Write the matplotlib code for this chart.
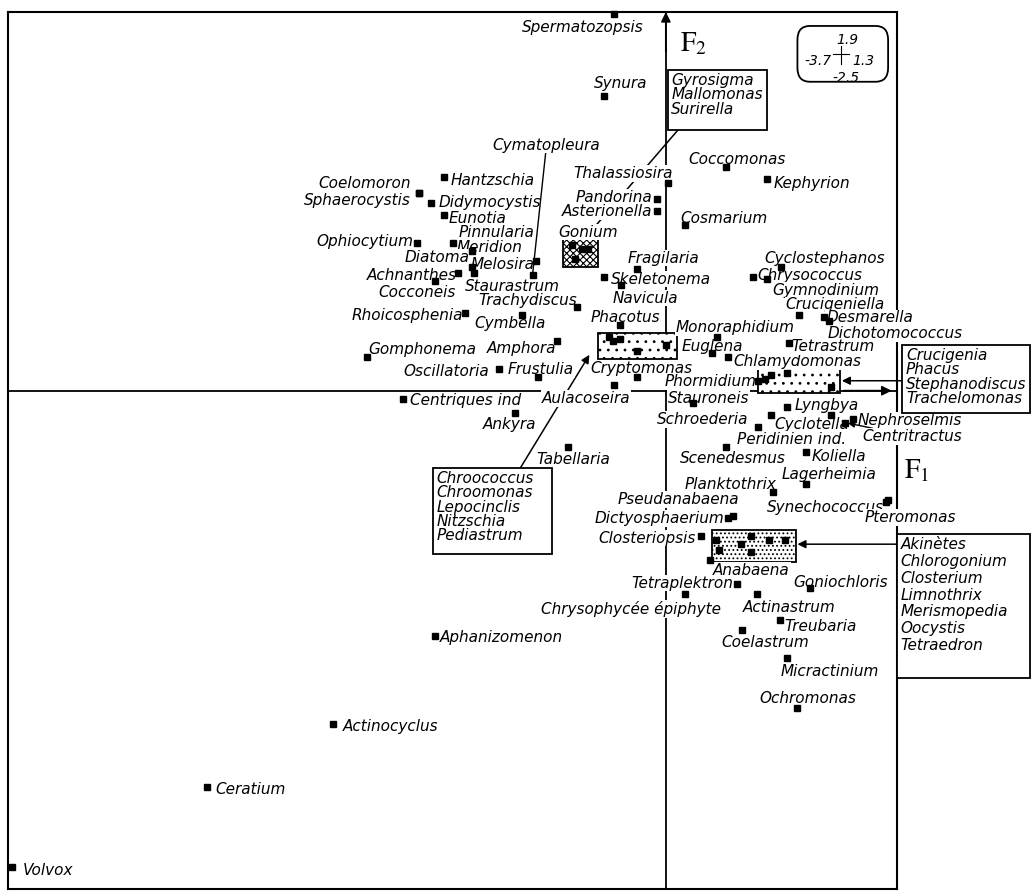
import matplotlib.pyplot as plt
from matplotlib.patches import Rectangle, FancyBboxPatch

plt.rcParams['font.family'] = 'DejaVu Sans'
plt.rcParams['mathtext.fontset'] = 'stix'
plt.rcParams['hatch.linewidth'] = 0.8

# axis ranges (shown in the small rounded legend)
x_min, x_max = -3.7, 1.3
y_min, y_max = -2.5, 1.9

# labelled taxa: F1 / F2 scores
species = [
    "Spermatozopsis", "Synura", "Thalassiosira", "Coccomonas", "Kephyrion",
    "Pandorina", "Asterionella", "Cosmarium", "Gonium", "Fragilaria",
    "Skeletonema", "Navicula", "Phacotus", "Monoraphidium", "Euglena",
    "Chlamydomonas", "Cryptomonas", "Aulacoseira", "Phormidium", "Stauroneis",
    "Cyclostephanos", "Chrysococcus", "Gymnodinium", "Crucigeniella", "Desmarella",
    "Dichotomococcus", "Tetrastrum", "Lyngbya", "Schroederia", "Cyclotella",
    "Peridinien ind.", "Nephroselmis", "Centritractus", "Koliella", "Lagerheimia",
    "Planktothrix", "Synechococcus", "Pteromonas", "Scenedesmus", "Pseudanabaena",
    "Dictyosphaerium", "Closteriopsis", "Anabaena", "Goniochloris", "Tetraplektron",
    "Actinastrum", "Chrysophycée épiphyte", "Treubaria", "Coelastrum", "Micractinium",
    "Ochromonas", "Aphanizomenon", "Actinocyclus", "Ceratium", "Volvox",
    "Centriques ind", "Ankyra", "Tabellaria", "Coelomoron", "Sphaerocystis",
    "Hantzschia", "Didymocystis", "Eunotia", "Ophiocytium", "Pinnularia",
    "Meridion", "Diatoma", "Melosira", "Cymatopleura", "Staurastrum",
    "Achnanthes", "Cocconeis", "Trachydiscus", "Rhoicosphenia", "Cymbella",
    "Amphora", "Gomphonema", "Oscillatoria", "Frustulia",
]
f1 = [
    -0.29, -0.35, 0.01, 0.34, 0.57,
    -0.05, -0.05, 0.11, -0.47, -0.16,
    -0.35, -0.25, -0.26, 0.29, 0.26,
    0.35, -0.16, -0.29, 0.52, 0.15,
    0.65, 0.49, 0.57, 0.75, 0.89,
    0.92, 0.69, 0.68, 0.52, 0.59,
    0.93, 1.05, 1.01, 0.79, 0.79,
    0.60, 1.24, 1.25, 0.34, 0.38,
    0.35, 0.20, 0.25, 0.81, 0.40,
    0.51, 0.11, 0.64, 0.43, 0.68,
    0.74, -1.30, -1.87, -2.58, -3.68,
    -1.48, -0.85, -0.55, -1.39, -1.39,
    -1.25, -1.32, -1.25, -1.40, -1.09,
    -1.20, -1.09, -0.73, -0.75, -1.08,
    -1.17, -1.30, -0.50, -1.13, -0.81,
    -0.61, -1.68, -0.94, -0.72,
]
f2 = [
    1.89, 1.48, 1.04, 1.12, 1.06,
    0.96, 0.90, 0.83, 0.71, 0.61,
    0.57, 0.53, 0.33, 0.27, 0.19,
    0.17, 0.07, 0.03, 0.05, -0.06,
    0.62, 0.57, 0.56, 0.38, 0.37,
    0.35, 0.24, -0.08, -0.18, -0.12,
    -0.12, -0.14, -0.16, -0.31, -0.47,
    -0.51, -0.56, -0.55, -0.28, -0.63,
    -0.64, -0.73, -0.85, -0.99, -0.97,
    -1.02, -1.02, -1.15, -1.20, -1.34,
    -1.59, -1.23, -1.67, -1.99, -2.39,
    -0.04, -0.11, -0.28, 0.99, 0.99,
    1.07, 0.94, 0.88, 0.74, 0.70,
    0.74, 0.62, 0.65, 0.58, 0.59,
    0.59, 0.55, 0.42, 0.39, 0.38,
    0.25, 0.17, 0.11, 0.07,
]

# grouped taxa (plotted inside hatched boxes, names listed in side boxes)
grp_a_names = ["Gyrosigma", "Mallomonas", "Surirella"]
grp_a_f1 = [-0.53, -0.44, -0.51]
grp_a_f2 = [0.73, 0.71, 0.66]

grp_b_names = ["Chroococcus", "Chroomonas", "Lepocinclis", "Nitzschia", "Pediastrum"]
grp_b_f1 = [-0.32, -0.26, -0.16, 0.00, -0.30]
grp_b_f2 = [0.27, 0.26, 0.20, 0.23, 0.25]

grp_c_names = ["Crucigenia", "Phacus", "Stephanodiscus", "Trachelomonas"]
grp_c_f1 = [0.56, 0.59, 0.68, 0.93]
grp_c_f2 = [0.06, 0.08, 0.09, 0.02]

grp_d_names = ["Akinètes", "Chlorogonium", "Closterium", "Limnothrix",
               "Merismopedia", "Oocystis", "Tetraedron"]
grp_d_f1 = [0.28, 0.30, 0.48, 0.48, 0.58, 0.67, 0.42]
grp_d_f2 = [-0.75, -0.80, -0.73, -0.81, -0.75, -0.75, -0.77]

# label placement: offset in pixels from the point, alignment
label_pos = {
    "Spermatozopsis": (-32, -14, "center"), "Synura": (17, 12, "center"),
    "Thalassiosira": (-45, 10, "center"), "Coccomonas": (11, 8, "center"),
    "Kephyrion": (6, -4, "left"), "Pandorina": (-5, 2, "right"),
    "Asterionella": (-5, 0, "right"), "Cosmarium": (-5, 7, "left"),
    "Gonium": (6, 17, "center"), "Fragilaria": (26, 11, "center"),
    "Skeletonema": (7, -2, "left"), "Navicula": (24, -13, "center"),
    "Phacotus": (6, 7, "center"), "Monoraphidium": (18, 9, "center"),
    "Euglena": (0, 6, "center"), "Chlamydomonas": (5, -5, "left"),
    "Cryptomonas": (4, 8, "center"), "Aulacoseira": (-28, -14, "center"),
    "Phormidium": (-2, -1, "right"), "Stauroneis": (16, 4, "center"),
    "Cyclostephanos": (43, 9, "center"), "Chrysococcus": (4, 2, "left"),
    "Gymnodinium": (5, -11, "left"), "Crucigeniella": (36, 10, "center"),
    "Desmarella": (2, -1, "left"), "Dichotomococcus": (-2, -13, "left"),
    "Tetrastrum": (3, -4, "left"), "Lyngbya": (8, 1, "left"),
    "Schroederia": (-10, 7, "right"), "Cyclotella": (4, -10, "left"),
    "Peridinien ind.": (15, -25, "right"), "Nephroselmis": (5, -2, "left"),
    "Centritractus": (17, -14, "left"), "Koliella": (5, -4, "left"),
    "Lagerheimia": (23, 10, "center"), "Planktothrix": (-42, 8, "center"),
    "Synechococcus": (-2, -5, "right"), "Pteromonas": (-24, -17, "left"),
    "Scenedesmus": (7, -12, "center"), "Pseudanabaena": (-55, 17, "center"),
    "Dictyosphaerium": (-4, 0, "right"), "Closteriopsis": (-6, -2, "right"),
    "Anabaena": (3, -10, "left"), "Goniochloris": (31, 6, "center"),
    "Tetraplektron": (-4, 1, "right"), "Actinastrum": (33, -13, "center"),
    "Chrysophycée épiphyte": (-54, -15, "center"), "Treubaria": (5, -7, "left"),
    "Coelastrum": (23, -13, "center"), "Micractinium": (43, -14, "center"),
    "Ochromonas": (10, 9, "center"), "Aphanizomenon": (5, -2, "left"),
    "Actinocyclus": (9, -3, "left"), "Ceratium": (8, -2, "left"),
    "Volvox": (11, -3, "left"), "Centriques ind": (7, -2, "left"),
    "Ankyra": (-5, -12, "center"), "Tabellaria": (5, -13, "center"),
    "Coelomoron": (-8, 10, "right"), "Sphaerocystis": (-8, -7, "right"),
    "Hantzschia": (7, -3, "left"), "Didymocystis": (7, 1, "left"),
    "Eunotia": (5, -3, "left"), "Ophiocytium": (-4, 2, "right"),
    "Pinnularia": (24, 19, "center"), "Meridion": (4, -4, "left"),
    "Diatoma": (-2, 10, "right"), "Melosira": (-1, -3, "right"),
    "Cymatopleura": (14, 130, "center"), "Staurastrum": (39, -13, "center"),
    "Achnanthes": (-1, -2, "right"), "Cocconeis": (-18, -11, "center"),
    "Trachydiscus": (0, 6, "right"), "Rhoicosphenia": (-2, -3, "right"),
    "Cymbella": (-12, -9, "center"), "Amphora": (-1, -8, "right"),
    "Gomphonema": (1, 7, "left"), "Oscillatoria": (-10, -3, "right"),
    "Frustulia": (3, 7, "center"),
}

fs = 11
fig = plt.figure(figsize=(10.33, 8.92), dpi=100)
ax = fig.add_axes([8 / 1033, 3 / 892, 889 / 1033, 877 / 892])
ax.set_xlim(x_min, x_max)
ax.set_ylim(y_min, y_max)
ax.set_xticks([])
ax.set_yticks([])
for s in ax.spines.values():
    s.set_linewidth(1.5)

# factorial axes
ax.axhline(0, color="black", lw=1.3, zorder=1)
ax.axvline(0, color="black", lw=1.3, zorder=1)
ax.annotate("", xy=(0, y_max), xytext=(0, y_max - 0.2),
            arrowprops=dict(arrowstyle="-|>", color="black", lw=1.3,
                            mutation_scale=14, shrinkA=0, shrinkB=0), zorder=1)
ax.annotate("", xy=(x_max - 0.03, 0), xytext=(x_max - 0.3, 0),
            arrowprops=dict(arrowstyle="-|>", color="black", lw=1.3,
                            mutation_scale=14, shrinkA=0, shrinkB=0), zorder=1)
ax.text(0.08, 1.74, r"$\mathrm{F}_2$", fontsize=20, ha="left", va="center")
ax.text(1.34, -0.40, r"$\mathrm{F}_1$", fontsize=20, ha="left", va="center",
        clip_on=False)

txt_box = dict(fc="white", ec="none", pad=0.05, boxstyle="square")

for name, x, y in zip(species, f1, f2):
    dx, dy, ha = label_pos[name]
    arrow = None
    if name == "Cymatopleura":
        arrow = dict(arrowstyle="-", color="black", lw=1, shrinkA=0, shrinkB=2)
    elif name == "Centritractus":
        arrow = dict(arrowstyle="-|>", color="black", lw=1, shrinkA=0, shrinkB=2,
                     mutation_scale=9)
    ax.annotate(name, (x, y), xytext=(dx, dy), textcoords="offset pixels",
                ha=ha, va="center", fontsize=fs, style="italic",
                bbox=txt_box, arrowprops=arrow, zorder=3,
                annotation_clip=False)
ax.plot(f1, f2, "s", color="black", ms=3.8, zorder=5, clip_on=False)

# hatched group boxes on the plane
group_boxes = [
    ((-0.58, 0.62), 0.20, 0.14, "xxxxx", grp_a_f1, grp_a_f2),
    ((-0.38, 0.16), 0.44, 0.13, "..", grp_b_f1, grp_b_f2),
    ((0.52, -0.01), 0.46, 0.12, "..", grp_c_f1, grp_c_f2),
    ((0.26, -0.86), 0.47, 0.16, "....", grp_d_f1, grp_d_f2),
]
for (x0, y0), w, h, hatch, gx, gy in group_boxes:
    ax.add_patch(Rectangle((x0, y0), w, h, fc="white", ec="black", lw=1.3,
                           hatch=hatch, zorder=2))
    ax.plot(gx, gy, "s", color="black", ms=3.8, zorder=5)

# side boxes listing grouped taxa
def name_box(x0, y0, x1, y1, names, spacing):
    ax.add_patch(Rectangle((x0, y1), x1 - x0, y0 - y1, fc="white", ec="black",
                           lw=1.3, zorder=4, clip_on=False))
    ax.text(x0 + 0.02, y0 - 0.015, "\n".join(names), ha="left", va="top",
            fontsize=fs, style="italic", linespacing=spacing, zorder=5,
            clip_on=False)

name_box(0.01, 1.61, 0.57, 1.31, grp_a_names, 0.95)
name_box(-1.31, -0.39, -0.64, -0.82, grp_b_names, 0.92)
name_box(1.33, 0.23, 2.05, -0.11, grp_c_names, 0.95)
name_box(1.30, -0.72, 2.05, -1.44, grp_d_names, 1.15)

ax.plot([0.07, -0.46], [1.31, 0.76], color="black", lw=1.1, zorder=1)
for start, end in [((-0.82, -0.39), (-0.43, 0.18)),
                   ((1.33, 0.05), (0.99, 0.05)),
                   ((1.30, -0.77), (0.74, -0.77))]:
    ax.annotate("", xy=end, xytext=start, annotation_clip=False,
                arrowprops=dict(arrowstyle="-|>", color="black", lw=1.1,
                                mutation_scale=12, shrinkA=0, shrinkB=0),
                zorder=1)

# small rounded legend with axis ranges
ax.add_patch(FancyBboxPatch((0.74, 1.55), 0.51, 0.28,
                            boxstyle="round,pad=0,rounding_size=0.07",
                            fc="white", ec="black", lw=1.3, zorder=4))
ax.plot([0.94, 1.03], [1.69, 1.69], color="black", lw=0.8, zorder=5)
ax.plot([0.985, 0.985], [1.64, 1.73], color="black", lw=0.8, zorder=5)
lg = dict(fontsize=10, style="italic", zorder=6)
ax.text(1.02, 1.76, f"{y_max:.1f}", ha="center", va="center", **lg)
ax.text(0.93, 1.655, f"{x_min:.1f}", ha="right", va="center", **lg)
ax.text(1.05, 1.655, f"{x_max:.1f}", ha="left", va="center", **lg)
ax.text(1.01, 1.57, f"{y_min:.1f}", ha="center", va="center", **lg)

fig.savefig("out.png", dpi=100)
